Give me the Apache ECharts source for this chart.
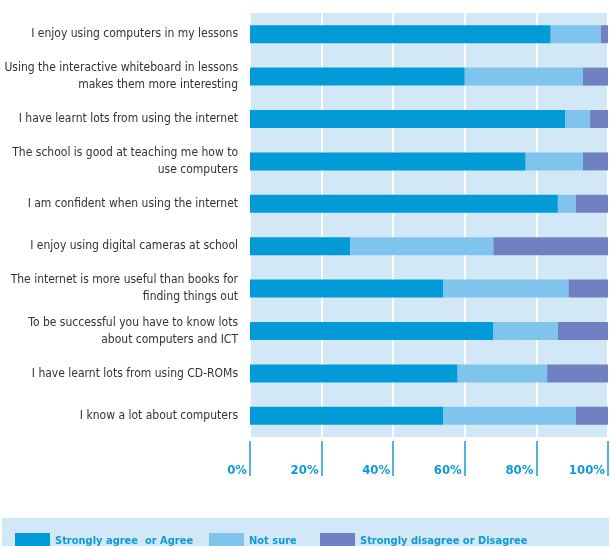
<!DOCTYPE html>
<html>
<head>
<meta charset="utf-8">
<script src="https://cdn.jsdelivr.net/npm/echarts@6/dist/echarts.min.js"></script>
<style>
html,body{margin:0;padding:0;background:#fff;}
#chart{width:611px;height:546px;}
</style>
</head>
<body>
<div id="chart"></div>
<script>
var categories = [
  "I enjoy using computers in my lessons",
  "Using the interactive whiteboard in lessons\nmakes them more interesting",
  "I have learnt lots from using the internet",
  "The school is good at teaching me how to\nuse computers",
  "I am confident when using the internet",
  "I enjoy using digital cameras at school",
  "The internet is more useful than books for\nfinding things out",
  "To be successful you have to know lots\nabout computers and ICT",
  "I have learnt lots from using CD-ROMs",
  "I know a lot about computers"
];
var agree    = [84, 60, 88, 77, 86, 28, 54, 68, 58, 54];
var notSure  = [14, 33,  7, 16,  5, 40, 35, 18, 25, 37];
var disagree = [ 2,  7,  5,  7,  9, 32, 11, 14, 17,  9];
var tickLabels = ["0%", "20%", "40%", "60%", "80%", "100%"];
var seriesNames = ["Strongly agree  or Agree", "Not sure", "Strongly disagree or Disagree"];

var FONT = "'DejaVu Sans Condensed', sans-serif";
var BLUE_TXT = "#0f9ad7";

var chart = echarts.init(document.getElementById('chart'), null, {renderer: 'canvas'});
function mk(name, data, color) {
  return {
    name: name, type: 'bar', stack: 'total', data: data,
    barWidth: 18, itemStyle: {color: color}, silent: true
  };
}
function lg(idx, left) {
  return {
    left: left, top: 528, itemWidth: 35, itemHeight: 16, itemGap: 0,
    icon: 'rect', selectedMode: false,
    textStyle: {fontFamily: FONT, fontSize: 11, fontWeight: 'bold', color: BLUE_TXT},
    data: [seriesNames[idx]]
  };
}
chart.setOption({
  animation: false,
  graphic: [
    {type: 'rect', shape: {x: 2, y: 518, width: 607, height: 28}, style: {fill: '#d2e8f6'}, z: -1}
  ],
  legend: [lg(0, 10), lg(1, 204), lg(2, 315)],
  grid: {
    left: 250, right: 3, top: 13, height: 424,
    outerBoundsMode: 'none', containLabel: false,
    show: true, backgroundColor: '#d2e8f6', borderWidth: 0
  },
  xAxis: {
    type: 'value', min: 0, max: 100, interval: 20,
    position: 'bottom', offset: 4,
    axisLine: {show: false},
    axisTick: {show: true, length: 35, lineStyle: {color: '#1a9ad6', width: 1.5}},
    splitLine: {show: true, lineStyle: {color: '#ffffff', width: 2}},
    axisLabel: {
      margin: 23, align: 'right', padding: [0, 3, 0, 0],
      fontFamily: FONT, fontSize: 13, fontWeight: 'bold', color: BLUE_TXT,
      formatter: function (v) { return tickLabels[v / 20]; }
    }
  },
  yAxis: {
    type: 'category', data: categories, inverse: true,
    axisLine: {show: false}, axisTick: {show: false},
    axisLabel: {margin: 12, fontFamily: FONT, fontSize: 12, color: '#333333', lineHeight: 17, align: 'right'}
  },
  series: [
    mk(seriesNames[0], agree, '#029bd8'),
    mk(seriesNames[1], notSure, '#7fc4ec'),
    mk(seriesNames[2], disagree, '#7180c2')
  ]
});
</script>
</body>
</html>
